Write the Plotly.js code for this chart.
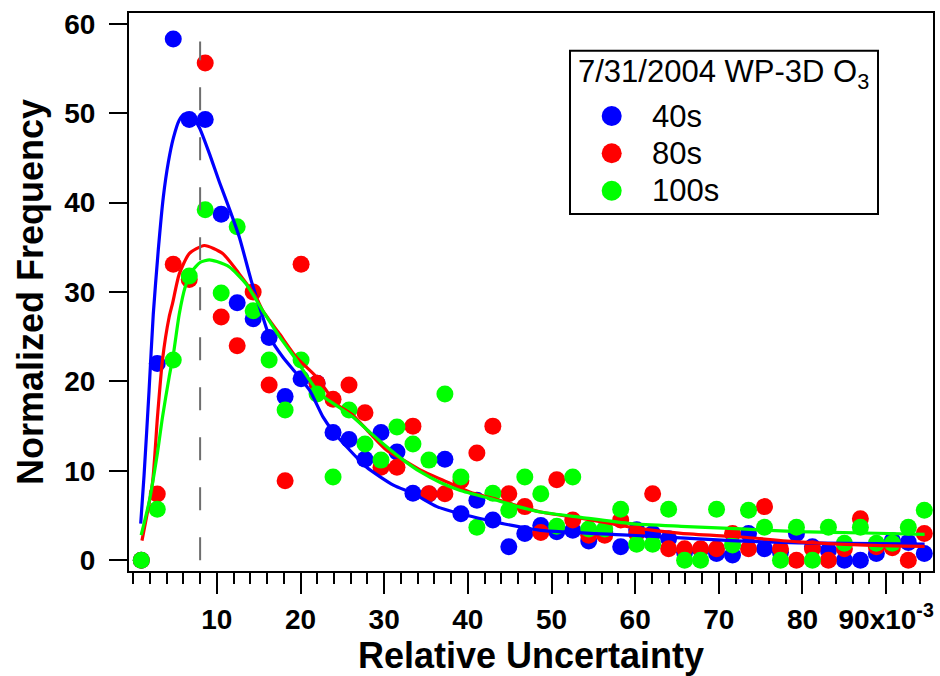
<!DOCTYPE html>
<html><head><meta charset="utf-8">
<script src="https://cdn.plot.ly/plotly-3.0.1.min.js"></script>
<style>html,body{margin:0;padding:0;background:#fff}#chart{width:940px;height:676px}</style>
</head><body><div id="chart"></div>
<script>
// Bin centres (x 10^-3)
const binCenters = [0.97, 2.88, 4.79, 6.70, 8.61, 10.52, 12.43, 14.34, 16.25, 18.16,
  20.07, 21.98, 23.89, 25.80, 27.71, 29.62, 31.53, 33.44, 35.35, 37.26,
  39.17, 41.08, 42.99, 44.90, 46.81, 48.72, 50.63, 52.54, 54.45, 56.36,
  58.27, 60.18, 62.09, 64.00, 65.91, 67.82, 69.73, 71.64, 73.55, 75.46,
  77.37, 79.28, 81.19, 83.10, 85.01, 86.92, 88.83, 90.74, 92.65, 94.56];

const freq40s = [0, 22.0, 58.3, 49.3, 49.3, 38.7, 28.8, 27.0, 24.9, 18.3,
  20.3, 19.8, 14.3, 13.5, 11.3, 14.3, 12.1, 7.5, 7.4, 11.3,
  5.2, 6.7, 4.5, 1.5, 3.0, 3.9, 3.2, 3.35, 2.15, 3.2,
  1.5, 3.4, 3.0, 2.4, 0.9, 1.2, 0.75, 0.6, 3.0, 1.3,
  0.9, 3.0, 1.5, 1.1, 0, 0, 0.75, 2.2, 2.0, 0.75];

const freq80s = [0, 7.4, 33.1, 31.4, 55.6, 27.2, 24.0, 30.0, 19.6, 8.9,
  33.1, 19.8, 18.0, 19.6, 16.5, 10.4, 10.4, 15.0, 7.45, 7.45,
  8.9, 12.0, 15.0, 7.45, 6.0, 3.1, 9.0, 4.5, 2.8, 2.8,
  4.5, 3.0, 7.45, 1.3, 1.3, 1.3, 1.3, 3.0, 1.3, 6.0,
  1.3, 0, 1.3, 0, 1.3, 4.65, 1.5, 1.4, 0, 3.0];

const freq100s = [0, 5.7, 22.4, 31.8, 39.2, 29.9, 37.3, 27.9, 22.4, 16.8,
  22.4, 18.6, 9.3, 16.8, 13.0, 11.2, 14.9, 13.0, 11.2, 18.6,
  9.3, 3.7, 7.5, 5.6, 9.3, 7.45, 3.8, 9.3, 3.5, 3.5,
  5.7, 1.8, 1.8, 5.7, 0, 0, 5.7, 1.7, 5.6, 3.7,
  0, 3.7, 0, 3.7, 1.9, 3.7, 1.9, 1.9, 3.7, 5.6];

// Fitted curves
const fit40sX = [0.9, 1.3, 1.9, 2.4, 3.0, 3.6, 4.2, 4.8, 5.5, 6.1, 7.0, 7.9, 9.1, 10.3, 11.5, 12.7, 14.1, 15.5, 16.3, 17.9, 19.5, 21.1, 22.7, 23.9, 25.9, 27.9, 31.1, 33.5, 36.3, 39.1, 42.3, 44.7, 48.7, 59.5, 71.5, 79.5, 94.6];
const fit40sY = [4.1, 9.5, 19.0, 27.5, 34.7, 40.6, 44.5, 47.2, 49.2, 49.9, 49.6, 48.4, 45.5, 42.3, 39.3, 36.1, 31.3, 27.2, 25.0, 22.7, 20.9, 19.0, 16.0, 14.4, 12.3, 10.4, 8.4, 7.45, 6.0, 5.2, 4.5, 4.0, 3.35, 2.8, 2.2, 1.95, 1.8];

const fit80sX = [1.05, 2.3, 2.9, 3.5, 4.3, 4.7, 5.5, 6.7, 8.5, 10.7, 12.7, 14.7, 15.5, 17.5, 19.5, 21.9, 24.3, 26.3, 28.3, 30.3, 32.3, 34.3, 37.5, 40.3, 43.1, 46.3, 48.7, 53.5, 59.5, 65.5, 72.7, 79.5, 87.5, 94.6];
const fit80sY = [2.2, 8.6, 16.0, 22.4, 27.2, 28.7, 32.0, 34.3, 35.2, 34.3, 32.0, 29.4, 27.9, 25.3, 22.7, 20.5, 17.5, 16.2, 14.2, 12.3, 11.2, 10.1, 8.75, 7.6, 6.9, 6.0, 5.4, 4.7, 3.7, 3.0, 2.6, 2.05, 1.7, 1.55];

const fit100sX = [0.95, 1.9, 2.9, 3.5, 4.3, 4.8, 5.5, 6.2, 7.0, 8.0, 9.1, 10.0, 11.5, 13.5, 15.5, 17.5, 19.5, 22.3, 24.3, 26.3, 28.3, 30.3, 32.3, 34.3, 36.7, 39.1, 43.1, 46.0, 48.7, 53.5, 59.5, 65.5, 72.7, 79.5, 87.5, 94.6];
const fit100sY = [2.8, 6.5, 12.0, 16.0, 20.5, 23.0, 27.5, 30.5, 32.3, 33.3, 33.6, 33.4, 32.8, 30.9, 27.9, 25.0, 22.4, 18.6, 17.3, 16.0, 14.3, 12.7, 11.2, 9.9, 8.7, 7.8, 6.8, 6.0, 5.4, 4.8, 4.1, 3.8, 3.5, 3.2, 3.05, 2.9];

// Dashed marker line
const modeLineX = [8, 8];
const modeLineY = [0, 58];

const xTickVals = [10, 20, 30, 40, 50, 60, 70, 80, 90];
const xTickText = ['10', '20', '30', '40', '50', '60', '70', '80', '90x10<sup>-3</sup>'];
const yTickVals = [0, 10, 20, 30, 40, 50, 60];
const yTickText = ['0', '10', '20', '30', '40', '50', '60'];

const seriesNames = ['40s', '80s', '100s'];
const seriesColors = ['#0000FF', '#FF0000', '#00FF00'];
const legendTitle = '7/31/2004 WP-3D O<sub>3</sub>';
const xTitle = 'Relative Uncertainty';
const yTitle = 'Normalized Frequency';

const FONT = 'Liberation Sans, Arial, Helvetica, sans-serif';

const freqs = [freq40s, freq80s, freq100s];
const fitsX = [fit40sX, fit80sX, fit100sX];
const fitsY = [fit40sY, fit80sY, fit100sY];

const traces = [];
for (let s = 0; s < 3; s++) {
  traces.push({
    x: binCenters, y: freqs[s], type: 'scatter', mode: 'markers', name: seriesNames[s],
    marker: {color: seriesColors[s], size: 17, line: {width: 0}},
    cliponaxis: false, showlegend: false
  });
}
for (let s = 0; s < 3; s++) {
  traces.push({
    x: fitsX[s], y: fitsY[s], type: 'scatter', mode: 'lines', name: seriesNames[s] + ' fit',
    line: {color: seriesColors[s], width: 3.2, shape: 'spline', smoothing: 0.6},
    showlegend: false
  });
}
traces.push({
  x: modeLineX, y: modeLineY, type: 'scatter', mode: 'lines', name: 'mode',
  line: {color: '#6e6e6e', width: 2, dash: '23px,27px'}, showlegend: false
});

// manual legend box (paper coords)
const L = 129, R = 7, T = 13, B = 105, W = 940, H = 676;
const pw = W - L - R, ph = H - T - B;
const px = v => (v - L) / pw;
const py = v => (H - B - v) / ph;

const legendRowsY = [116, 153.3, 190.7];
const shapes = [{
  type: 'rect', xref: 'paper', yref: 'paper',
  x0: px(570), x1: px(878), y0: py(214), y1: py(50.7),
  line: {color: '#000', width: 2}, fillcolor: '#fff', layer: 'below'
}];
const annotations = [{
  xref: 'paper', yref: 'paper', x: px(576), y: py(74), xanchor: 'left', yanchor: 'middle',
  text: legendTitle, showarrow: false, font: {family: FONT, size: 31, color: '#000'}
}];
for (let s = 0; s < 3; s++) {
  shapes.push({
    type: 'circle', xref: 'paper', yref: 'paper', xsizemode: 'pixel', ysizemode: 'pixel',
    xanchor: px(611.7), yanchor: py(legendRowsY[s]), x0: -10, x1: 10, y0: -10, y1: 10,
    fillcolor: seriesColors[s], line: {width: 0}
  });
  annotations.push({
    xref: 'paper', yref: 'paper', x: px(650), y: py(legendRowsY[s]), xanchor: 'left', yanchor: 'middle',
    text: seriesNames[s], showarrow: false, font: {family: FONT, size: 31, color: '#000'}
  });
}

const layout = {
  width: W, height: H,
  margin: {l: L, r: R, t: T, b: B},
  paper_bgcolor: '#fff', plot_bgcolor: '#fff',
  showlegend: false,
  font: {family: FONT, color: '#000'},
  xaxis: {
    range: [-0.5, 95.6], showgrid: false, zeroline: false,
    showline: true, linecolor: '#000', linewidth: 2, mirror: true,
    ticks: 'outside', ticklen: 21, tickwidth: 2, tickcolor: '#000',
    tickmode: 'array', tickvals: xTickVals, ticktext: xTickText,
    ticklabelstandoff: 1,
    tickfont: {family: FONT, size: 28, weight: 'bold', color: '#000'},
    minor: {tickmode: 'linear', tick0: 0, dtick: 2, ticks: 'outside', ticklen: 11, tickwidth: 2, tickcolor: '#000', showgrid: false},
    title: {text: xTitle, font: {family: FONT, size: 36, weight: 'bold', color: '#000'}, standoff: 8},
    automargin: false
  },
  yaxis: {
    range: [-1.2, 61.2], showgrid: false, zeroline: false,
    showline: true, linecolor: '#000', linewidth: 2, mirror: true,
    ticks: 'outside', ticklen: 18, tickwidth: 2, tickcolor: '#000',
    tickmode: 'array', tickvals: yTickVals, ticktext: yTickText,
    ticklabelstandoff: 8,
    tickfont: {family: FONT, size: 28, weight: 'bold', color: '#000'},
    title: {text: yTitle, font: {family: FONT, size: 36, weight: 'bold', color: '#000'}, standoff: 10},
    automargin: false
  },
  shapes: shapes,
  annotations: annotations
};

Plotly.newPlot('chart', traces, layout, {staticPlot: true, displayModeBar: false});
</script>
</body></html>
